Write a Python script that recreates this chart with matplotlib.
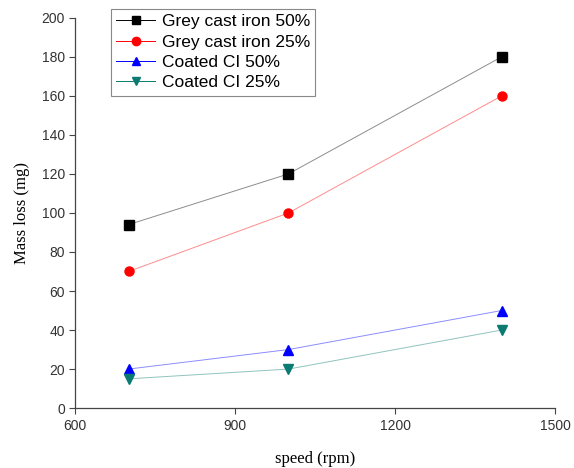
import matplotlib
matplotlib.use('Agg')
import matplotlib.pyplot as plt

speed = [700, 1000, 1400]
grey_50 = [94, 120, 180]
grey_25 = [70, 100, 160]
coated_50 = [20, 30, 50]
coated_25 = [15, 20, 40]

series = [
    ('Grey cast iron 50%', grey_50, 'black', 's'),
    ('Grey cast iron 25%', grey_25, 'red', 'o'),
    ('Coated CI 50%', coated_50, 'blue', '^'),
    ('Coated CI 25%', coated_25, '#0a7a72', 'v'),
]


def main():
    fig = plt.figure(figsize=(5.74, 4.68), dpi=100)
    ax = fig.add_axes([0.131, 0.128, 0.836, 0.834])

    handles = []
    for label, values, color, marker in series:
        ax.plot(speed, values, color=color, lw=0.7, alpha=0.45)
        ax.plot(speed, values, linestyle='none', marker=marker, ms=6.5,
                color=color)
        # legend handle: faint line with a solid marker
        h, = ax.plot([], [], color=color, lw=0.7, marker=marker, ms=6,
                     label=label)
        handles.append(h)

    ax.set_xlim(600, 1500)
    ax.set_ylim(0, 200)
    ax.set_xticks([600, 900, 1200, 1500])
    ax.set_yticks(range(0, 201, 20))

    for side in ('top', 'right'):
        ax.spines[side].set_visible(False)
    for side in ('left', 'bottom'):
        ax.spines[side].set_color('#444444')
        ax.spines[side].set_linewidth(0.9)
    ax.tick_params(direction='out', length=4, width=0.8, colors='#444444',
                   labelsize=10, labelcolor='#333333')
    for t in ax.get_xticklabels() + ax.get_yticklabels():
        t.set_family('Liberation Sans')

    ax.set_xlabel('speed (rpm)', family='Liberation Serif', fontsize=12,
                  labelpad=13)
    ax.set_ylabel('Mass loss (mg)', family='Liberation Serif', fontsize=12,
                  labelpad=8)

    leg = ax.legend(handles=handles, loc='upper left',
                    bbox_to_anchor=(0.057, 1.045),
                    prop={'family': 'Liberation Sans', 'size': 12.5},
                    fancybox=False, framealpha=1, edgecolor='#888888',
                    handlelength=2.2, handletextpad=0.4, borderpad=0.3,
                    labelspacing=0.3)
    leg.get_frame().set_linewidth(0.8)

    fig.savefig('out.png', dpi=100)


if __name__ == "__main__":
    main()
